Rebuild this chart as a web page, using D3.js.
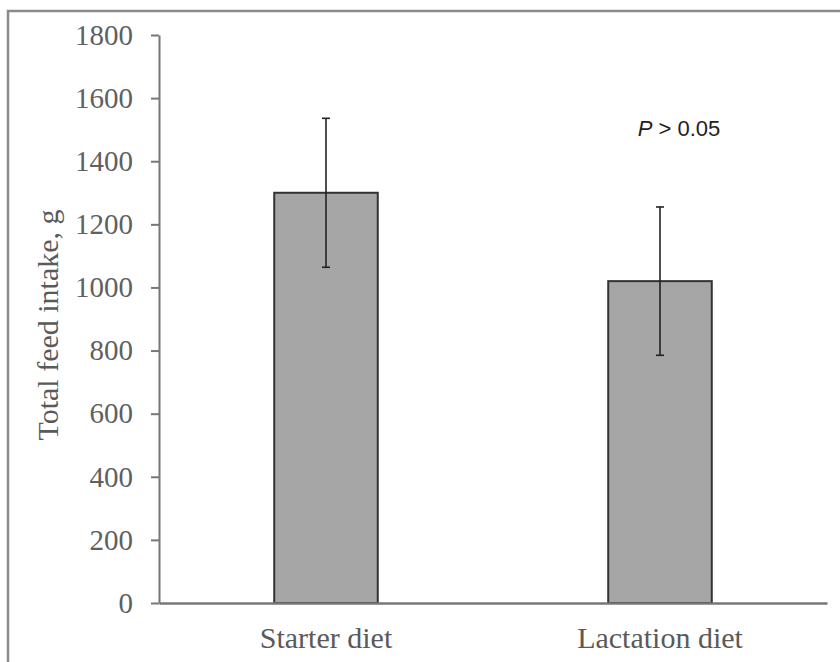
<!DOCTYPE html>
<html>
<head>
<meta charset="utf-8">
<script src="https://cdn.jsdelivr.net/npm/d3@7"></script>
<style>
  body { margin: 0; background: #fff; }
  svg { display: block; }
</style>
</head>
<body>
<svg id="chart" width="840" height="662"></svg>
<script>
// data
var diets = ["Starter diet", "Lactation diet"];
var intake = [1300, 1020];
var intakeErr = [236, 235];
var yTicks = [0, 200, 400, 600, 800, 1000, 1200, 1400, 1600, 1800];

var svg = d3.select("#chart"),
    margin = {top: 35, right: 13, bottom: 59, left: 159},
    width = +svg.attr("width") - margin.left - margin.right,
    height = +svg.attr("height") - margin.top - margin.bottom;

// outer frame (only top and left edges visible)
svg.append("path")
    .attr("d", "M8,662V11H840")
    .attr("fill", "none")
    .attr("stroke", "#8a8a8a")
    .attr("stroke-width", 2.5);

var g = svg.append("g")
    .attr("transform", "translate(" + margin.left + "," + margin.top + ")");

var x = d3.scaleBand()
    .domain(diets)
    .range([0, width])
    .paddingInner(0.69)
    .paddingOuter(0.345);

var y = d3.scaleLinear()
    .domain([0, 1800])
    .range([height, 0]);

// y axis
var yAxis = g.append("g")
    .call(d3.axisLeft(y).tickValues(yTicks).tickFormat(d3.format("d"))
        .tickSize(8).tickPadding(18).tickSizeOuter(0));
yAxis.select(".domain").attr("stroke", "#777").attr("stroke-width", 2);
yAxis.selectAll(".tick line").attr("stroke", "#777").attr("stroke-width", 2);
yAxis.selectAll(".tick text")
    .attr("fill", "#606060")
    .style("font-family", "'Liberation Serif', 'Times New Roman', serif")
    .style("font-size", "29px");

// bars
g.selectAll(".bar")
    .data(diets)
    .enter().append("rect")
    .attr("class", "bar")
    .attr("x", function(d) { return x(d); })
    .attr("width", x.bandwidth())
    .attr("y", function(d, i) { return y(intake[i]); })
    .attr("height", function(d, i) { return height - y(intake[i]); })
    .attr("fill", "#a6a6a6")
    .attr("stroke", "#333")
    .attr("stroke-width", 2);

// error bars
var eb = g.selectAll(".err")
    .data(diets)
    .enter().append("g")
    .attr("class", "err")
    .attr("stroke", "#222")
    .attr("stroke-width", 1.6);

eb.append("line")
    .attr("x1", function(d) { return x(d) + x.bandwidth() / 2; })
    .attr("x2", function(d) { return x(d) + x.bandwidth() / 2; })
    .attr("y1", function(d, i) { return y(intake[i] + intakeErr[i]); })
    .attr("y2", function(d, i) { return y(intake[i] - intakeErr[i]); });

[1, -1].forEach(function(s) {
    eb.append("line")
        .attr("x1", function(d) { return x(d) + x.bandwidth() / 2 - 4; })
        .attr("x2", function(d) { return x(d) + x.bandwidth() / 2 + 4; })
        .attr("y1", function(d, i) { return y(intake[i] + s * intakeErr[i]); })
        .attr("y2", function(d, i) { return y(intake[i] + s * intakeErr[i]); });
});

// x axis drawn after bars so the baseline sits on top
var xAxis = g.append("g")
    .attr("transform", "translate(0," + height + ")")
    .call(d3.axisBottom(x).tickSize(0).tickPadding(24));
xAxis.select(".domain").attr("stroke", "#777").attr("stroke-width", 2.5);
xAxis.selectAll(".tick text")
    .attr("fill", "#5a5a5a")
    .style("font-family", "'Liberation Serif', 'Times New Roman', serif")
    .style("font-size", "30px");

// y axis title
g.append("text")
    .attr("transform", "rotate(-90)")
    .attr("x", -height / 2 - 6)
    .attr("y", -101)
    .attr("text-anchor", "middle")
    .attr("fill", "#5a5a5a")
    .style("font-family", "'Liberation Serif', 'Times New Roman', serif")
    .style("font-size", "30px")
    .text("Total feed intake, g");

// significance note
var note = g.append("text")
    .attr("x", x("Lactation diet") + x.bandwidth() / 2 + 19)
    .attr("y", y(1480))
    .attr("text-anchor", "middle")
    .attr("fill", "#222")
    .style("font-family", "'Liberation Sans', Arial, sans-serif")
    .style("font-size", "22px");
note.append("tspan").style("font-style", "italic").text("P");
note.append("tspan").text(" > 0.05");
</script>
</body>
</html>
